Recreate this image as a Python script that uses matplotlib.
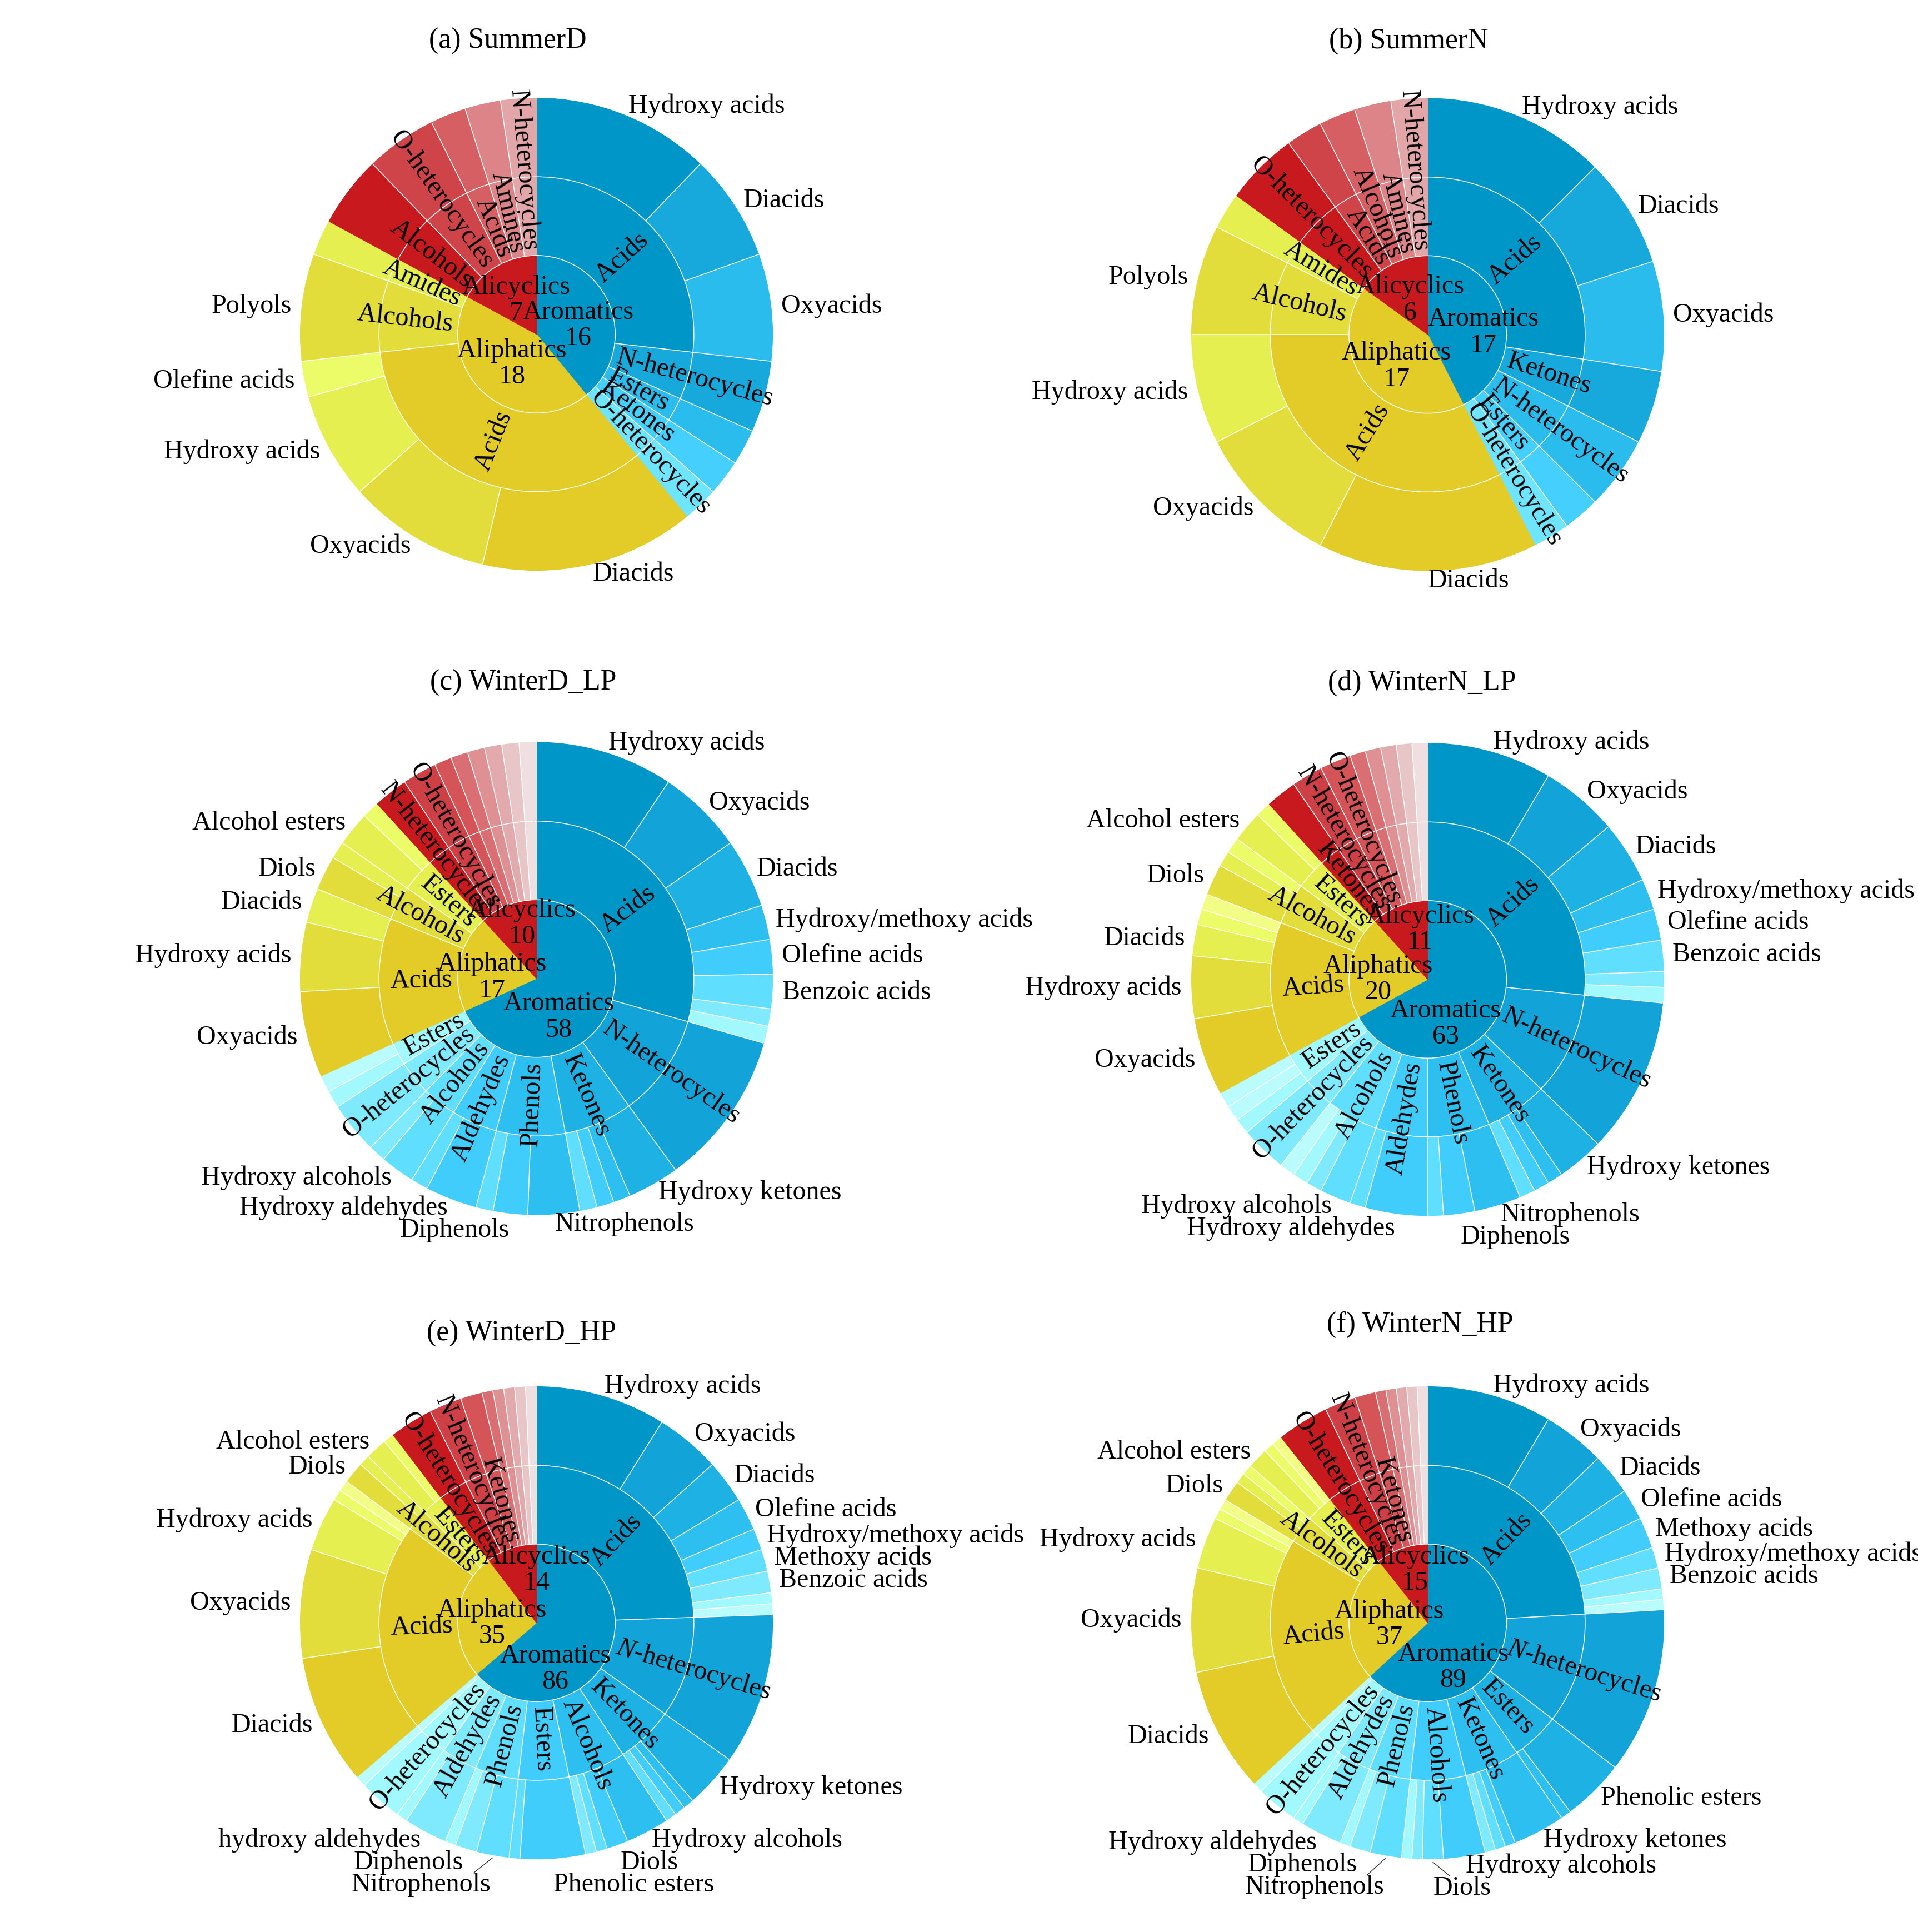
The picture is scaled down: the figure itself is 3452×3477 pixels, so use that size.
import numpy as np
import matplotlib
matplotlib.use("Agg")
import matplotlib.pyplot as plt
from matplotlib.colors import LinearSegmentedColormap
from matplotlib.patches import Circle

plt.rcParams['font.family'] = ['Liberation Serif', 'DejaVu Serif']
plt.rcParams['mathtext.fontset'] = 'custom'
plt.rcParams['mathtext.rm'] = 'Liberation Serif'
plt.rcParams['mathtext.it'] = 'Liberation Serif:italic'

# ---------------------------------------------------------------- data
FAMILIES = ["Aromatics", "Aliphatics", "Alicyclics"]
TITLES = ["(a) SummerD", "(b) SummerN", "(c) WinterD_LP",
          "(d) WinterN_LP", "(e) WinterD_HP", "(f) WinterN_HP"]
NHET_IT = r"$\mathit{N}$-heterocycles"

# (a) SummerD
SD_AROM = [("Acids", [("Hydroxy acids", 5), ("Diacids", 3), ("Oxyacids", 3)]),
           ("N-heterocycles", [("", 2)]), ("Esters", [("", 1)]),
           ("Ketones", [("", 1)]), ("O-heterocycles", [("", 1)])]
SD_ALIP = [("Acids", [("Diacids", 6), ("Oxyacids", 4), ("Hydroxy acids", 3), ("Olefine acids", 1)]),
           ("Alcohols", [("Polyols", 3)]), ("Amides", [("", 1)])]
SD_ALIC = [("Alcohols", [("", 2)]), ("O-heterocycles", [("", 2)]), ("Acids", [("", 1)]),
           ("Amines", [("", 1)]), ("N-heterocycles", [("", 1)])]

# (b) SummerN
SN_AROM = [("Acids", [("Hydroxy acids", 5), ("Diacids", 3), ("Oxyacids", 3)]),
           ("Ketones", [("", 2)]), ("N-heterocycles", [("", 2)]),
           ("Esters", [("", 1)]), ("O-heterocycles", [("", 1)])]
SN_ALIP = [("Acids", [("Diacids", 6), ("Oxyacids", 4), ("Hydroxy acids", 3)]),
           ("Alcohols", [("Polyols", 3)]), ("Amides", [("", 1)])]
SN_ALIC = [("O-heterocycles", [("", 2)]), ("Acids", [("", 1)]), ("Alcohols", [("", 1)]),
           ("Amines", [("", 1)]), ("N-heterocycles", [("", 1)])]

# (c) WinterD_LP
WDL_AROM = [("Acids", [("Hydroxy acids", 8), ("Oxyacids", 5), ("Diacids", 4),
                       ("Hydroxy/methoxy acids", 2), ("Olefine acids", 2),
                       ("Benzoic acids", 2), ("", 1), ("", 1)]),
            ("N-heterocycles", [("", 9)]),
            ("Ketones", [("Hydroxy ketones", 3), ("", 1), ("", 1), ("", 1)]),
            ("Phenols", [("Nitrophenols", 3), ("Diphenols", 2), ("", 1)]),
            ("Aldehydes", [("Hydroxy aldehydes", 3), ("", 1)]),
            ("Alcohols", [("Hydroxy alcohols", 2), ("", 1)]),
            ("O-heterocycles", [("", 3)]),
            ("Esters", [("", 1), ("", 1)])]
WDL_ALIP = [("Acids", [("Oxyacids", 5), ("Hydroxy acids", 4), ("Diacids", 2)]),
            ("Alcohols", [("Diols", 2), ("", 1)]),
            ("Esters", [("Alcohol esters", 2), ("", 1)])]
WDL_ALIC = [("N-heterocycles", [("", 2)]), ("O-heterocycles", [("", 2)]),
            ("", [("", 1)]), ("", [("", 1)]), ("", [("", 1)]),
            ("", [("", 1)]), ("", [("", 1)]), ("", [("", 1)])]

# (d) WinterN_LP
WNL_AROM = [("Acids", [("Hydroxy acids", 8), ("Oxyacids", 5), ("Diacids", 4),
                       ("Hydroxy/methoxy acids", 2), ("Olefine acids", 2),
                       ("Benzoic acids", 2), ("", 1), ("", 1)]),
            ("N-heterocycles", [("", 10)]),
            ("Ketones", [("Hydroxy ketones", 3), ("", 1), ("", 1), ("", 1)]),
            ("Phenols", [("Nitrophenols", 3), ("Diphenols", 2), ("", 1)]),
            ("Aldehydes", [("Hydroxy aldehydes", 4), ("", 1)]),
            ("Alcohols", [("Hydroxy alcohols", 2), ("", 1), ("", 1), ("", 1)]),
            ("O-heterocycles", [("", 3)]),
            ("Esters", [("", 1), ("", 1), ("", 1)])]
WNL_ALIP = [("Acids", [("Oxyacids", 5), ("Hydroxy acids", 4), ("Diacids", 2), ("", 1), ("", 1)]),
            ("Alcohols", [("Diols", 2), ("", 1), ("", 1)]),
            ("Esters", [("Alcohol esters", 2), ("", 1)])]
WNL_ALIC = [("Ketones", [("", 2)]), ("N-heterocycles", [("", 2)]), ("O-heterocycles", [("", 2)]),
            ("", [("", 1)]), ("", [("", 1)]), ("", [("", 1)]), ("", [("", 1)]), ("", [("", 1)])]

# (e) WinterD_HP
WDH_AROM = [("Acids", [("Hydroxy acids", 12), ("Oxyacids", 6), ("Diacids", 4), ("Olefine acids", 3),
                       ("Hydroxy/methoxy acids", 2), ("Methoxy acids", 2), ("Benzoic acids", 2),
                       ("", 1), ("", 1)]),
            (NHET_IT, [("", 14)]),
            ("Ketones", [("Hydroxy ketones", 5), ("", 1), ("", 1), ("", 1)]),
            ("Alcohols", [("Hydroxy alcohols", 4), ("Diols", 2), ("", 1), ("", 1)]),
            ("Esters", [("Phenolic esters", 6), ("", 1)]),
            ("Phenols", [("Nitrophenols", 3), ("Diphenols", 2), ("", 1)]),
            ("Aldehydes", [("hydroxy aldehydes", 4), ("", 1)]),
            ("O-heterocycles", [("", 4)]),
            ("", [("", 1)])]
WDH_ALIP = [("Acids", [("Diacids", 12), ("Oxyacids", 10), ("Hydroxy acids", 5), ("", 1), ("", 1)]),
            ("Alcohols", [("Diols", 2), ("", 1)]),
            ("Esters", [("Alcohol esters", 2), ("", 1)])]
WDH_ALIC = [("O-heterocycles", [("", 4)]), ("N-heterocycles", [("", 3)]), ("Ketones", [("", 2)]),
            ("", [("", 1)]), ("", [("", 1)]), ("", [("", 1)]), ("", [("", 1)]), ("", [("", 1)])]

# (f) WinterN_HP
WNH_AROM = [("Acids", [("Hydroxy acids", 12), ("Oxyacids", 6), ("Diacids", 4), ("Olefine acids", 3),
                       ("Methoxy acids", 3), ("Hydroxy/methoxy acids", 2), ("Benzoic acids", 2),
                       ("", 1), ("", 1)]),
            (NHET_IT, [("", 16)]),
            ("Esters", [("Phenolic esters", 6), ("", 1)]),
            ("Ketones", [("Hydroxy ketones", 5), ("", 1), ("", 1), ("", 1)]),
            ("Alcohols", [("Hydroxy alcohols", 4), ("Diols", 2), ("", 1), ("", 1)]),
            ("Phenols", [("Nitrophenols", 3), ("Diphenols", 2), ("", 1)]),
            ("Aldehydes", [("Hydroxy aldehydes", 4), ("", 1)]),
            ("O-heterocycles", [("", 4)]),
            ("", [("", 1)])]
WNH_ALIP = [("Acids", [("Diacids", 12), ("Oxyacids", 10), ("Hydroxy acids", 5), ("", 1), ("", 1)]),
            ("Alcohols", [("Diols", 2), ("", 1), ("", 1)]),
            ("Esters", [("Alcohol esters", 2), ("", 1), ("", 1)])]
WNH_ALIC = [("O-heterocycles", [("", 5)]), ("N-heterocycles", [("", 3)]), ("Ketones", [("", 2)]),
            ("", [("", 1)]), ("", [("", 1)]), ("", [("", 1)]), ("", [("", 1)]), ("", [("", 1)])]

PANELS = [(SD_AROM, SD_ALIP, SD_ALIC), (SN_AROM, SN_ALIP, SN_ALIC),
          (WDL_AROM, WDL_ALIP, WDL_ALIC), (WNL_AROM, WNL_ALIP, WNL_ALIC),
          (WDH_AROM, WDH_ALIP, WDH_ALIC), (WNH_AROM, WNH_ALIP, WNH_ALIC)]

# ---------------------------------------------------------------- layout / style
W, H, DPI = 3452, 3477, 100
R1, R2, R3 = 141.7, 283.3, 425.0
CENTERS = [(965.5, 601.5), (2569.6, 602.0), (965.5, 1761.0),
           (2569.6, 1762.6), (965.5, 2920.6), (2569.6, 2920.6)]
TITLE_XY = [(914, 87), (2535, 87), (942, 1242), (2559, 1242), (939, 2413), (2556, 2397)]
# placement of the two-line centre labels (px right / px down from the pie centre)
CENTER_LABEL_XY = [
    [(75, -16), (-44, 53), (-37, -61)],
    [(100, -4), (-56, 57), (-32, -62)],
    [(40, 69), (-80, -2), (-26, -99)],
    [(32, 80), (-89, 0), (-14, -90)],
    [(34, 83), (-80, 1), (0, -95)],
    [(46, 80), (-69, 3), (-23, -95)],
]
FS = 34.6
FS_TITLE = 37.4
LABEL_PAD = 18
GAP = 40
MIN_LABEL_ANGLE = 5.0
LW = 1.1

CMAPS = {
    "Aromatics": LinearSegmentedColormap.from_list("blu", [
        (0.0, "#0096c7"), (0.125, "#12a4d8"), (0.25, "#1eb1e3"), (0.375, "#2cbff0"),
        (0.5, "#40cdfc"), (0.625, "#5fdefd"), (0.75, "#7eeafd"), (0.875, "#a0f9fd"),
        (1.0, "#bafcfd")]),
    "Aliphatics": LinearSegmentedColormap.from_list("yel", [
        (0.0, "#e3cb28"), (0.172, "#e3dd3c"), (0.344, "#e5ef50"), (0.516, "#ecfb68"),
        (0.69, "#f2fd85"), (1.0, "#f8feb8")]),
    "Alicyclics": LinearSegmentedColormap.from_list("red", [
        (0.0, "#c8191e"), (1 / 7, "#ce4045"), (2 / 7, "#d45458"), (3 / 7, "#d96f73"),
        (4 / 7, "#de9093"), (5 / 7, "#e3aaad"), (6 / 7, "#e8c6c8"), (1.0, "#efdfe1")]),
}


def color_fn(fam, children):
    m = max(i + j for i, (_, kids) in enumerate(children) for j in range(len(kids)))
    step = min(0.172, max(0.125, 1.0 / m)) if m > 0 else 0.0
    cmap = CMAPS[fam]
    return lambda k: cmap(min(1.0, k * step))


def polar(r, th_deg):
    t = np.radians(th_deg)
    return r * np.sin(t), r * np.cos(t)


def outside_labels(ax, items):
    R = R3 + LABEL_PAD
    sides = {1: [], -1: []}
    for name, th in items:
        x, y = polar(R, th)
        s = 1 if np.sin(np.radians(th)) >= 0 else -1
        sides[s].append([name, th, x, y, y])
    for s, lst in sides.items():
        upper = sorted([l for l in lst if l[3] > 0], key=lambda l: l[3])
        lower = sorted([l for l in lst if l[3] <= 0], key=lambda l: -l[3])
        prev = None
        for l in upper:
            if prev is not None and l[4] < prev + GAP:
                l[4] = prev + GAP
            prev = l[4]
        prev = None
        for l in lower:
            if prev is not None and l[4] > prev - GAP:
                l[4] = prev - GAP
            prev = l[4]
        for name, th, x, y0, y in lst:
            ax.text(x, y, name, ha='left' if s > 0 else 'right', va='center', fontsize=FS)
            if abs(y - y0) > 30:
                sx, sy = polar(R3 + 6, th)
                ey = y + 22 if y < 0 else y - 22
                ax.plot([sx, x + s * 30], [sy, ey], color='#333333', lw=1.0)


fig = plt.figure(figsize=(W / DPI, H / DPI), dpi=DPI)
S = 600
for p, fams in enumerate(PANELS):
    cx, cy = CENTERS[p]
    ax = fig.add_axes([(cx - S) / W, 1 - (cy + S) / H, 2 * S / W, 2 * S / H])
    inner_v, inner_c, inner_n = [], [], []
    mid_v, mid_c, mid_n = [], [], []
    out_v, out_c, out_n = [], [], []
    for fam, children in zip(FAMILIES, fams):
        col = color_fn(fam, children)
        tot = 0
        for i, (name, kids) in enumerate(children):
            sv = sum(v for _, v in kids)
            mid_v.append(sv); mid_c.append(col(i)); mid_n.append(name)
            for j, (kn, kv) in enumerate(kids):
                out_v.append(kv); out_c.append(col(i + j)); out_n.append(kn)
            tot += sv
        inner_v.append(tot); inner_c.append(col(0)); inner_n.append(fam)
    total = float(sum(inner_v))

    for vals, rad, width, cols in [(out_v, R3, R3 - R2, out_c), (mid_v, R2, R2 - R1, mid_c),
                                   (inner_v, R1, R1, inner_c)]:
        wedges, _ = ax.pie(vals, radius=rad, colors=cols, startangle=90, counterclock=False,
                           wedgeprops=dict(width=width, linewidth=0.8))
        for w in wedges:
            w.set_edgecolor(w.get_facecolor())

    ax.set_xlim(-S, S)
    ax.set_ylim(-S, S)
    ax.axis('off')

    # white separators: rings + radial lines inside each family (none between families)
    fam_b = set(np.cumsum([0] + inner_v).tolist())
    mid_b = set(np.cumsum([0] + mid_v).tolist())
    out_b = set(np.cumsum([0] + out_v).tolist())
    for b in sorted(mid_b - fam_b):
        th = 360.0 * b / total
        (x0, y0), (x1, y1) = polar(R1, th), polar(R3, th)
        ax.plot([x0, x1], [y0, y1], color='white', lw=LW, solid_capstyle='butt', zorder=2)
    for b in sorted(out_b - mid_b - fam_b):
        th = 360.0 * b / total
        (x0, y0), (x1, y1) = polar(R2, th), polar(R3, th)
        ax.plot([x0, x1], [y0, y1], color='white', lw=LW, solid_capstyle='butt', zorder=2)
    for rr in (R1, R2):
        ax.add_patch(Circle((0, 0), rr, fill=False, edgecolor='white', lw=LW, zorder=2))

    # middle ring radial labels
    cum = 0.0
    for v, name in zip(mid_v, mid_n):
        span = 360.0 * v / total
        th = 360.0 * (cum + v / 2.0) / total
        cum += v
        if not name or span < MIN_LABEL_ANGLE:
            continue
        x, y = polar(R1 + 9, th)
        if th < 180:
            rot, ha = 90 - th, 'left'
        else:
            rot, ha = 270 - th, 'right'
        ax.text(x, y, name, rotation=rot, rotation_mode='anchor',
                ha=ha, va='center', fontsize=FS, zorder=3)

    # centre labels
    for k, (v, name) in enumerate(zip(inner_v, inner_n)):
        dx, dy = CENTER_LABEL_XY[p][k]
        ax.text(dx, -dy, f"{name}\n{v}", ha='center', va='center',
                multialignment='center', fontsize=FS, linespacing=1.1, zorder=3)

    # outer labels
    items = []
    cum = 0.0
    for v, name in zip(out_v, out_n):
        th = 360.0 * (cum + v / 2.0) / total
        cum += v
        if name:
            items.append((name, th))
    outside_labels(ax, items)

    tx, ty = TITLE_XY[p]
    fig.text(tx / W, 1 - ty / H, TITLES[p], ha='center', va='baseline', fontsize=FS_TITLE)

fig.savefig("out.png", dpi=DPI)
